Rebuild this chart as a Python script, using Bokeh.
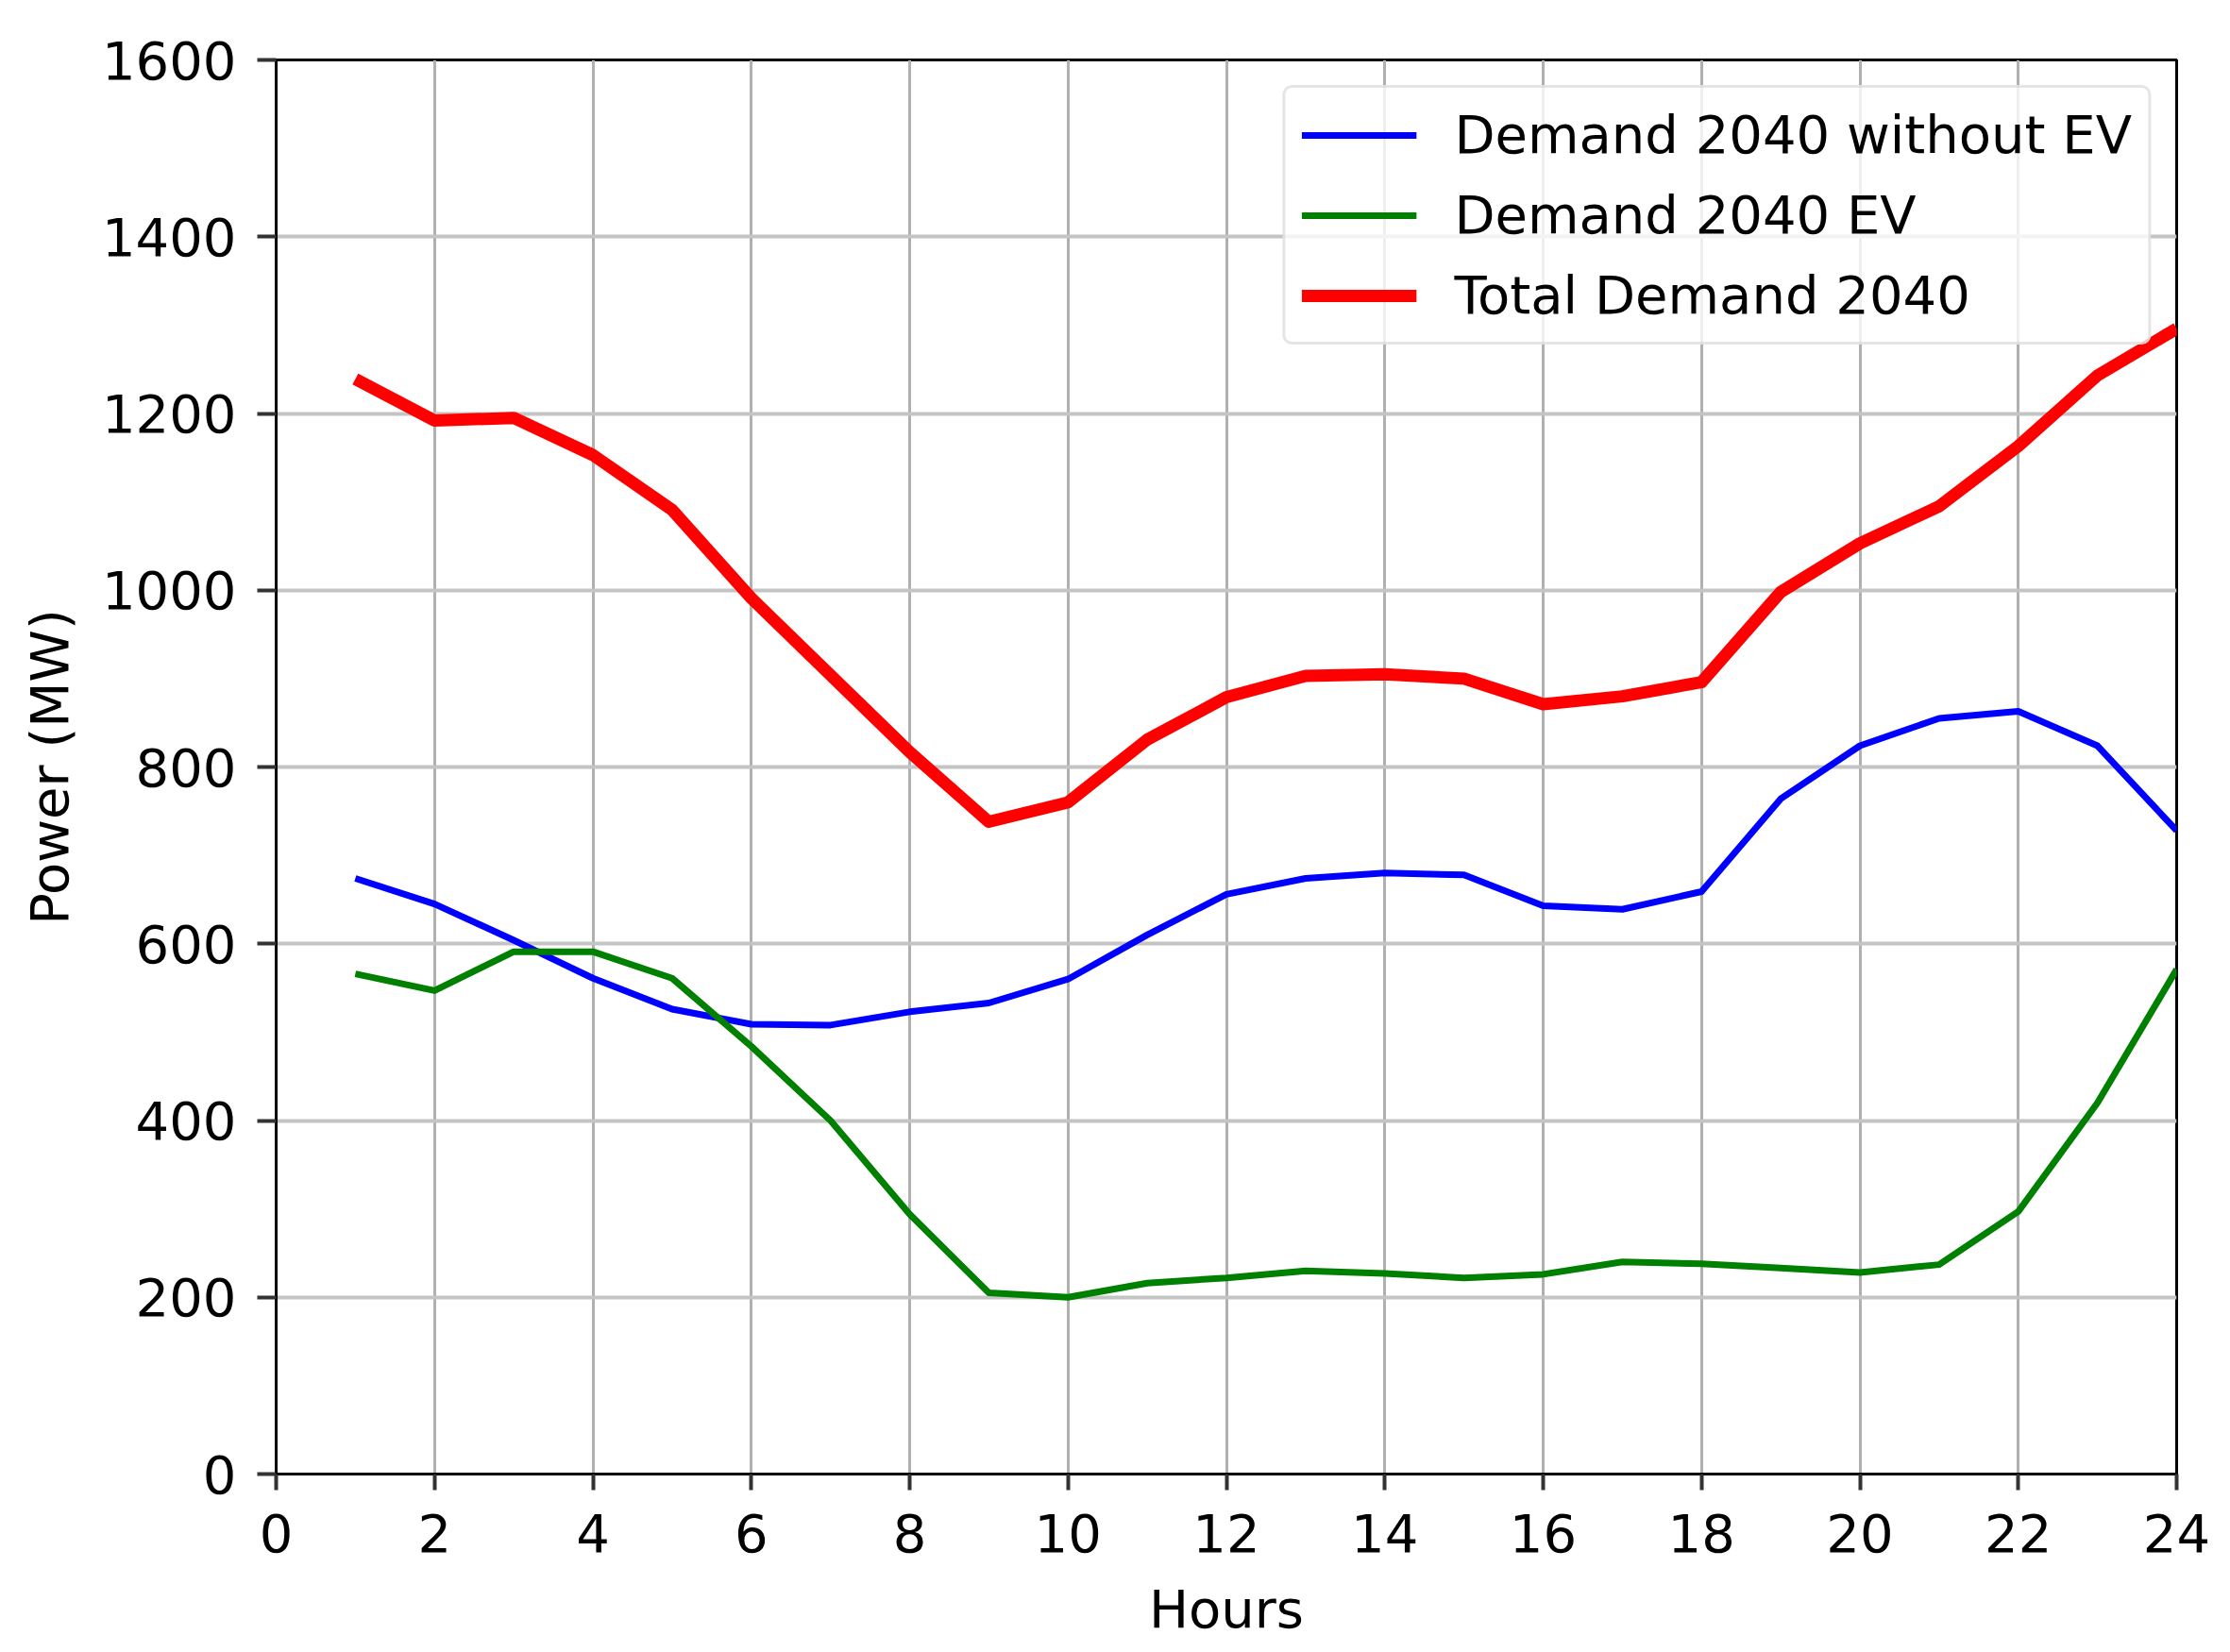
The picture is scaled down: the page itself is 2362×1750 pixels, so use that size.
from bokeh.plotting import figure
from bokeh.models import Range1d, SingleIntervalTicker, Legend, LegendItem
from bokeh.embed import file_html
from bokeh.resources import INLINE

hours = list(range(1, 25))
demand_no_ev = [674, 645, 604, 561, 526, 509, 508, 523, 533, 560, 610, 656,
                674, 680, 678, 643, 639, 659, 764, 824, 855, 863, 824, 728]
demand_ev = [566, 547, 591, 591, 561, 484, 400, 294, 205, 200, 216, 222,
             230, 227, 222, 226, 240, 238, 233, 228, 237, 297, 420, 571]
total_demand = [1239, 1192, 1195, 1153, 1091, 991, 904, 817, 738, 760, 831, 879,
                903, 905, 900, 871, 880, 896, 998, 1053, 1095, 1163, 1243, 1296]

labels = ["Demand 2040 without EV", "Demand 2040 EV", "Total Demand 2040"]

FONT = "DejaVu Sans"
FS = "56px"

p = figure(width=2346, height=1742, output_backend="svg", toolbar_location=None,
           x_range=Range1d(0, 24), y_range=Range1d(0, 1600),
           min_border_left=292, min_border_right=41, min_border_top=63, min_border_bottom=181)
p.background_fill_color = "white"
p.border_fill_color = "white"
p.outline_line_color = "black"
p.outline_line_width = 3

r1 = p.line(hours, demand_no_ev, line_color="blue", line_width=7, line_join="round")
r2 = p.line(hours, demand_ev, line_color="green", line_width=7, line_join="round")
r3 = p.line(hours, total_demand, line_color="red", line_width=13, line_join="round")

p.xaxis.ticker = SingleIntervalTicker(interval=2)
p.yaxis.ticker = SingleIntervalTicker(interval=200)
p.xaxis.axis_label = "Hours"
p.yaxis.axis_label = "Power (MW)"

for ax in (p.xaxis, p.yaxis):
    ax.axis_label_text_font = FONT
    ax.axis_label_text_font_size = FS
    ax.axis_label_text_font_style = "normal"
    ax.axis_label_text_color = "black"
    ax.major_label_text_font = FONT
    ax.major_label_text_font_size = FS
    ax.major_label_text_color = "black"
    ax.axis_line_color = "black"
    ax.axis_line_width = 3
    ax.major_tick_line_color = "#333333"
    ax.major_tick_line_width = 4
    ax.major_tick_in = 0
    ax.minor_tick_line_color = None

p.yaxis.major_tick_out = 20
p.yaxis.major_label_standoff = 22
p.yaxis.axis_label_standoff = 20
p.xaxis.major_tick_out = 17
p.xaxis.major_label_standoff = 25
p.xaxis.axis_label_standoff = 25

p.xgrid.grid_line_color = "#b0b0b0"
p.xgrid.grid_line_width = 3
p.ygrid.grid_line_color = "#c4c4c4"
p.ygrid.grid_line_width = 4

legend = Legend(items=[LegendItem(label=labels[0], renderers=[r1]),
                       LegendItem(label=labels[1], renderers=[r2]),
                       LegendItem(label=labels[2], renderers=[r3])],
                location="top_right")
legend.margin = 27
legend.padding = 17
legend.spacing = 20
legend.glyph_width = 122
legend.glyph_height = 64
legend.label_height = 64
legend.label_standoff = 40
legend.label_text_font = FONT
legend.label_text_font_size = FS
legend.label_text_color = "black"
legend.border_line_color = "#cccccc"
legend.border_line_width = 3
legend.border_radius = 10
legend.background_fill_color = "white"
legend.background_fill_alpha = 0.8
p.add_layout(legend)

open("out.html", "w").write(file_html(p, INLINE))
